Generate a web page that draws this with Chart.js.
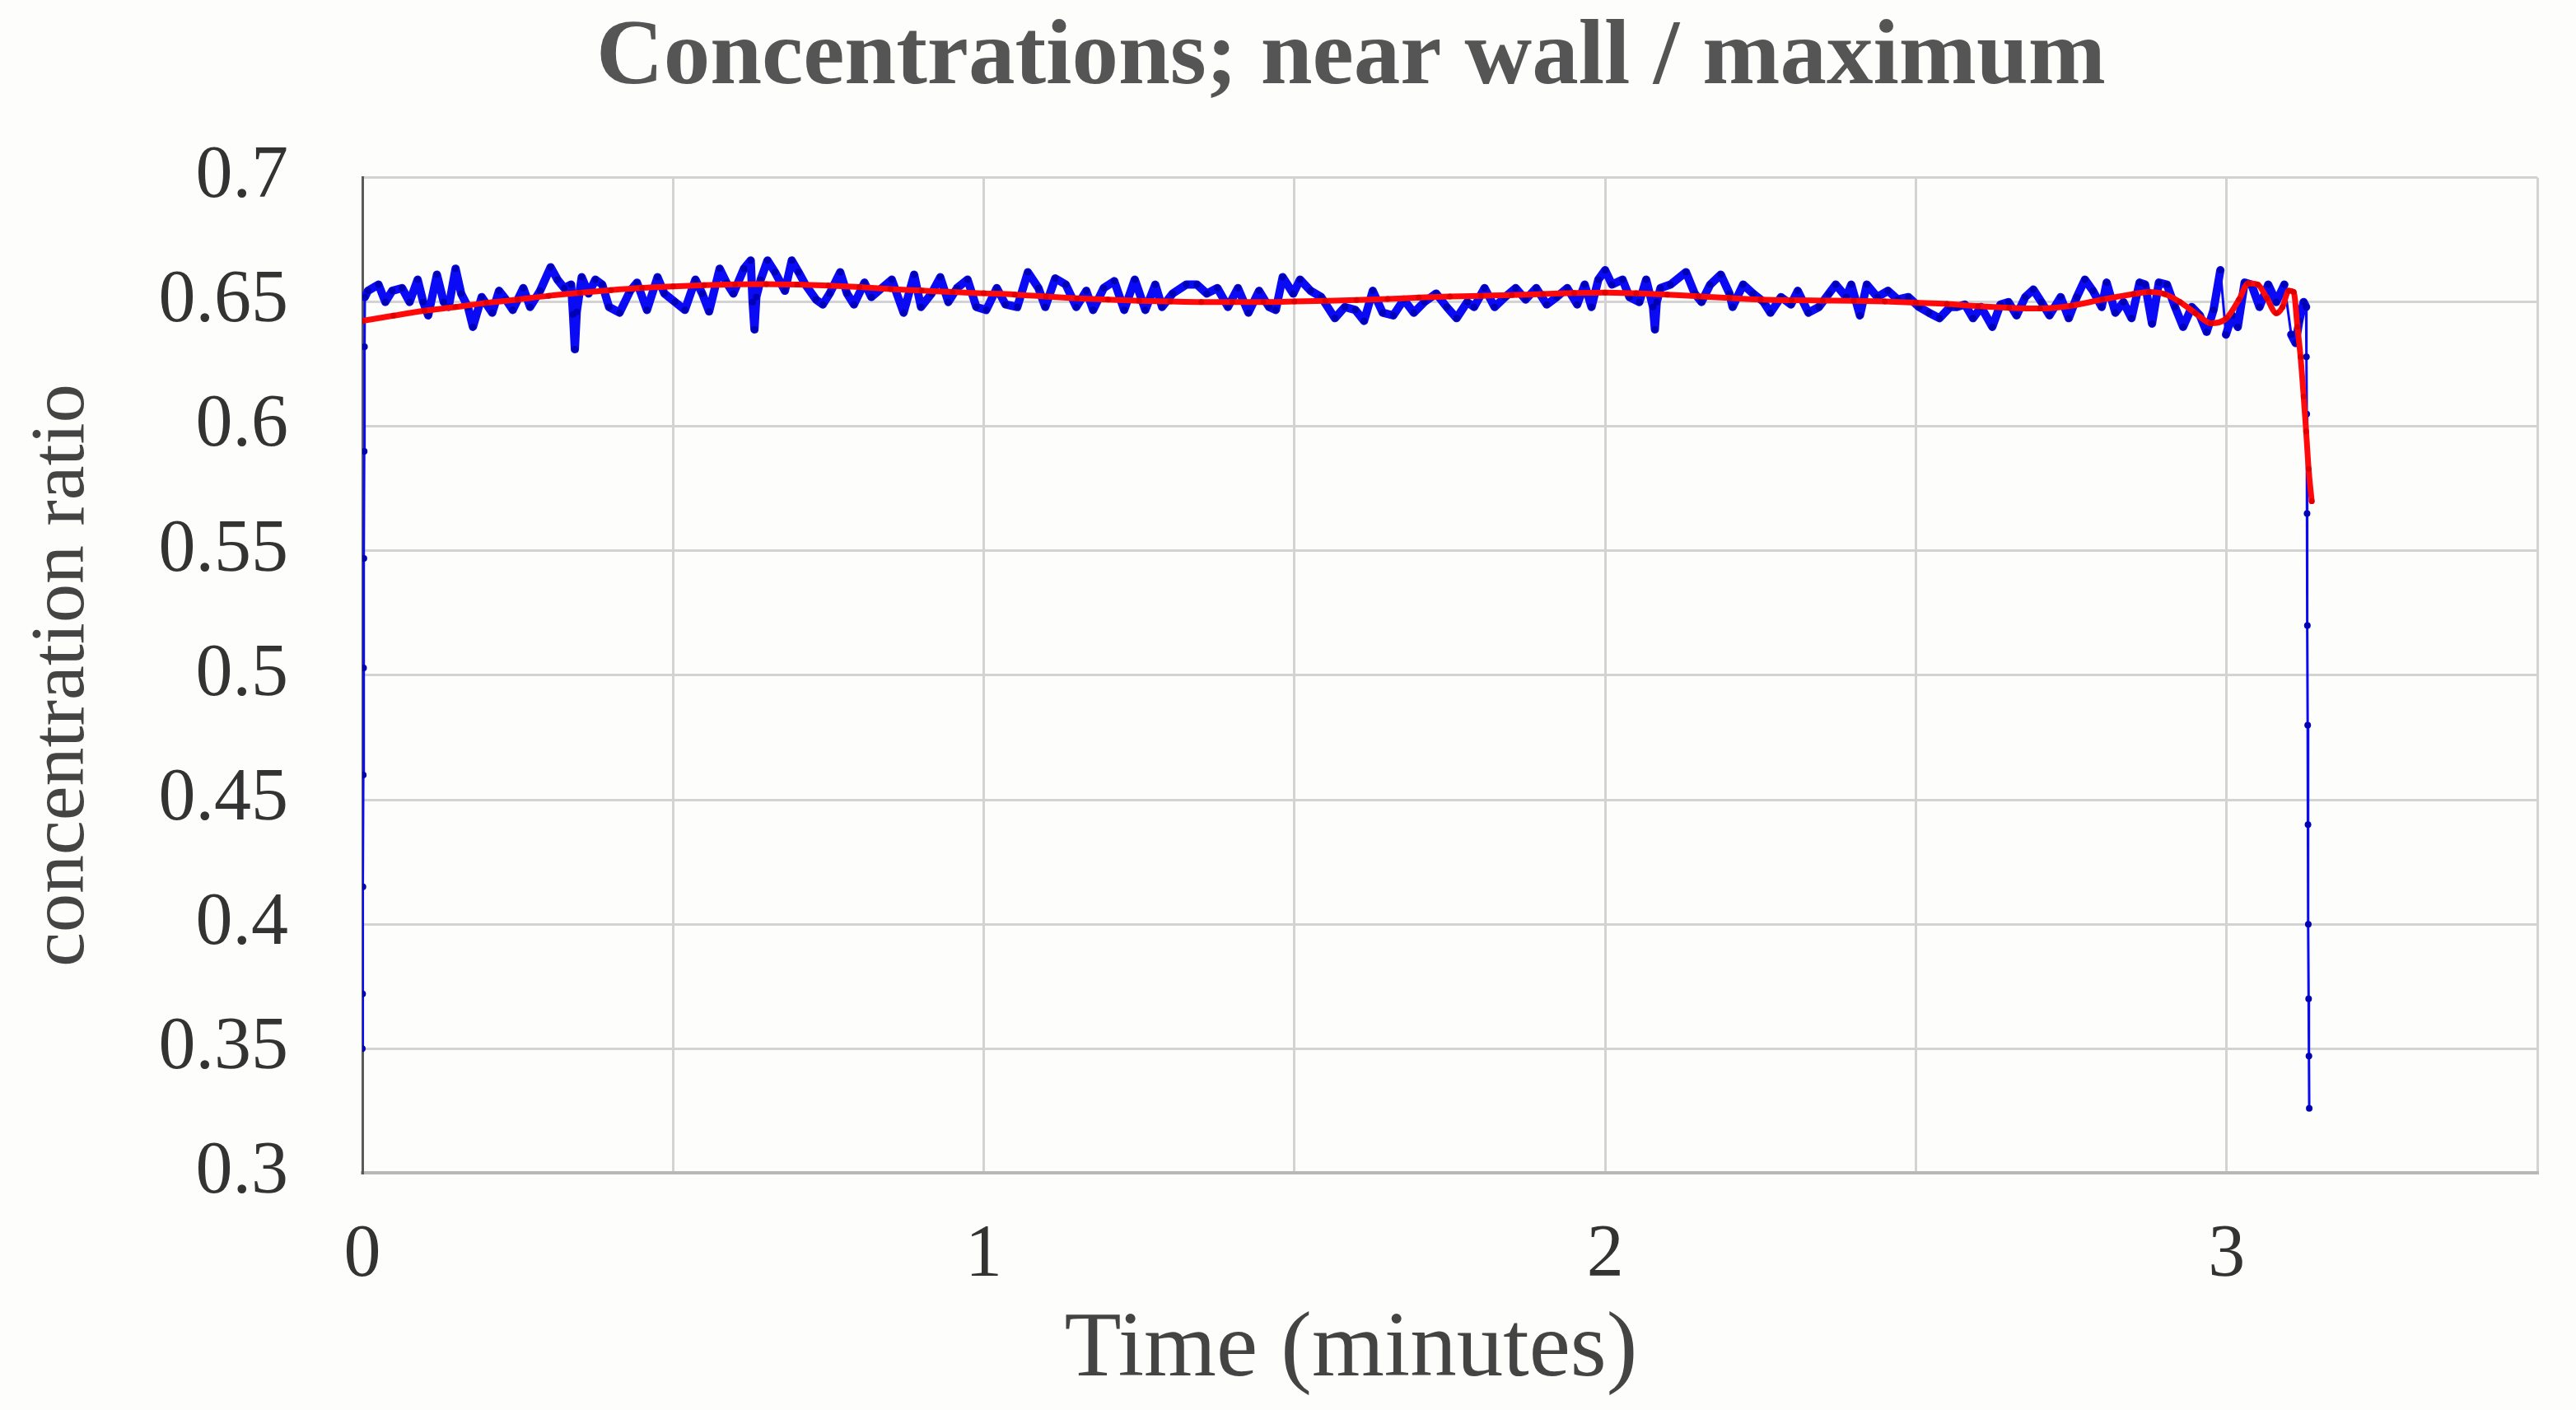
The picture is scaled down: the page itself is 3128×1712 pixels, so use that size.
<!DOCTYPE html>
<html>
<head>
<meta charset="utf-8">
<title>Concentrations; near wall / maximum</title>
<script src="https://cdn.jsdelivr.net/npm/chart.js@4/dist/chart.umd.min.js"></script>
<style>
  html, body { margin: 0; padding: 0; background: #fdfdfb; }
  #chart { display: block; }
</style>
</head>
<body>
<canvas id="chart" width="3128" height="1712"></canvas>
<script>
// measured series (time in minutes, ratio)
const blueTime = [
  0.000, 0.0005, 0.001, 0.0015, 0.002, 0.0025, 0.003, 0.0035, 0.004,
  0.009, 0.026, 0.037, 0.048, 0.064, 0.076, 0.089, 0.098, 0.106, 0.120,
  0.131, 0.139, 0.150, 0.159, 0.170, 0.178, 0.192, 0.209, 0.220, 0.231,
  0.242, 0.259, 0.270, 0.286, 0.303, 0.314, 0.325, 0.336, 0.339, 0.342,
  0.345, 0.353, 0.364, 0.375, 0.386, 0.397, 0.414, 0.431, 0.442, 0.458,
  0.475, 0.486, 0.503, 0.519, 0.536, 0.547, 0.558, 0.575, 0.586, 0.597,
  0.614, 0.625, 0.628, 0.631, 0.634, 0.641, 0.652, 0.664, 0.680, 0.691,
  0.702, 0.713, 0.730, 0.741, 0.752, 0.769, 0.780, 0.791, 0.808, 0.819,
  0.836, 0.852, 0.871, 0.888, 0.899, 0.916, 0.930, 0.943, 0.957, 0.974,
  0.988, 1.004, 1.021, 1.035, 1.054, 1.071, 1.088, 1.099, 1.115, 1.132,
  1.149, 1.165, 1.176, 1.193, 1.210, 1.226, 1.243, 1.260, 1.276, 1.287,
  1.304, 1.326, 1.343, 1.359, 1.376, 1.393, 1.409, 1.426, 1.443, 1.459,
  1.470, 1.481, 1.498, 1.509, 1.526, 1.543, 1.565, 1.581, 1.598, 1.612,
  1.626, 1.642, 1.659, 1.676, 1.692, 1.709, 1.728, 1.745, 1.761, 1.778,
  1.789, 1.806, 1.822, 1.839, 1.856, 1.872, 1.889, 1.906, 1.922, 1.939,
  1.955, 1.967, 1.978, 1.989, 2.000, 2.011, 2.028, 2.039, 2.055, 2.066,
  2.077, 2.080, 2.083, 2.089, 2.105, 2.130, 2.144, 2.155, 2.169, 2.186,
  2.200, 2.205, 2.222, 2.238, 2.255, 2.266, 2.283, 2.299, 2.310, 2.327,
  2.344, 2.360, 2.371, 2.388, 2.396, 2.410, 2.421, 2.438, 2.455, 2.471,
  2.488, 2.505, 2.521, 2.538, 2.555, 2.566, 2.579, 2.592, 2.605, 2.623,
  2.636, 2.649, 2.662, 2.676, 2.689, 2.702, 2.715, 2.733, 2.746, 2.759,
  2.772, 2.785, 2.799, 2.807, 2.821, 2.834, 2.847, 2.860, 2.869, 2.880,
  2.891, 2.904, 2.917, 2.930, 2.944, 2.957, 2.968, 2.979, 2.990, 2.999,
  3.009, 3.018, 3.029, 3.040, 3.053, 3.067, 3.080, 3.093, 3.104, 3.111,
  3.117, 3.124, 3.128, 3.1285, 3.129, 3.1295, 3.130, 3.1305, 3.131, 3.1315,
  3.132, 3.1325, 3.133
];
const blueRatio = [
  0.350, 0.372, 0.415, 0.460, 0.503, 0.547, 0.590, 0.632, 0.652,
  0.6545, 0.657, 0.650, 0.6545, 0.6556, 0.650, 0.659, 0.650, 0.6446, 0.661,
  0.650, 0.648, 0.6634, 0.6534, 0.648, 0.640, 0.652, 0.6457, 0.6545, 0.651,
  0.6468, 0.6556, 0.648, 0.6545, 0.664, 0.659, 0.6556, 0.657, 0.645, 0.631,
  0.646, 0.660, 0.6534, 0.659, 0.657, 0.648, 0.6457, 0.6545, 0.6578, 0.6468,
  0.660, 0.6534, 0.650, 0.6468, 0.659, 0.6534, 0.6462, 0.6634, 0.6578, 0.6534,
  0.6634, 0.6667, 0.650, 0.639, 0.652, 0.659, 0.6667, 0.662, 0.6545, 0.6667,
  0.662, 0.657, 0.651, 0.649, 0.6534, 0.662, 0.6534, 0.649, 0.6578, 0.652,
  0.6556, 0.659, 0.6457, 0.661, 0.648, 0.6534, 0.660, 0.650, 0.6556, 0.659,
  0.648, 0.6468, 0.6556, 0.649, 0.648, 0.662, 0.6556, 0.648, 0.6595, 0.657,
  0.648, 0.6545, 0.6468, 0.6556, 0.6584, 0.6468, 0.659, 0.6468, 0.657, 0.648,
  0.6534, 0.657, 0.657, 0.6534, 0.6556, 0.648, 0.6556, 0.6457, 0.6545, 0.648,
  0.6468, 0.660, 0.6534, 0.659, 0.6545, 0.652, 0.6435, 0.648, 0.6468, 0.6424,
  0.6545, 0.6457, 0.6446, 0.651, 0.6457, 0.650, 0.6534, 0.648, 0.6435, 0.650,
  0.648, 0.6556, 0.648, 0.652, 0.6556, 0.651, 0.6556, 0.649, 0.652, 0.6556,
  0.649, 0.657, 0.648, 0.659, 0.6628, 0.657, 0.659, 0.652, 0.650, 0.659,
  0.648, 0.639, 0.650, 0.6556, 0.657, 0.662, 0.6534, 0.650, 0.657, 0.661,
  0.6534, 0.648, 0.657, 0.6534, 0.650, 0.6457, 0.652, 0.649, 0.6545, 0.6457,
  0.648, 0.6534, 0.657, 0.652, 0.657, 0.6446, 0.657, 0.652, 0.6545, 0.651,
  0.652, 0.648, 0.6457, 0.6435, 0.648, 0.648, 0.649, 0.6435, 0.648, 0.640,
  0.649, 0.650, 0.6446, 0.652, 0.655, 0.650, 0.6446, 0.652, 0.6435, 0.652,
  0.659, 0.6545, 0.648, 0.6578, 0.6457, 0.650, 0.6435, 0.6578, 0.657, 0.6413,
  0.6578, 0.657, 0.648, 0.640, 0.648, 0.6446, 0.638, 0.6468, 0.6628, 0.6369,
  0.6446, 0.640, 0.6578, 0.657, 0.648, 0.657, 0.650, 0.657, 0.6369, 0.6335,
  0.6424, 0.650, 0.648, 0.628, 0.605, 0.565, 0.520, 0.480, 0.440, 0.400,
  0.370, 0.347, 0.326
];

// smoothed (red) curve
const redTime = [
  0.00, 0.05, 0.10, 0.15, 0.20, 0.25, 0.30, 0.35, 0.40, 0.45,
  0.50, 0.55, 0.60, 0.65, 0.70, 0.75, 0.80, 0.85, 0.90, 0.95,
  1.00, 1.05, 1.10, 1.15, 1.20, 1.25, 1.30, 1.35, 1.40, 1.45,
  1.50, 1.55, 1.60, 1.65, 1.70, 1.75, 1.80, 1.85, 1.90, 1.95,
  2.00, 2.05, 2.10, 2.15, 2.20, 2.25, 2.30, 2.35, 2.40, 2.45,
  2.50, 2.55, 2.60, 2.65, 2.70, 2.75, 2.80, 2.85, 2.875, 2.90,
  2.925, 2.95, 2.975, 3.00, 3.02, 3.035, 3.05, 3.065, 3.08, 3.09,
  3.10, 3.108, 3.114, 3.119, 3.124, 3.128, 3.132, 3.137
];
const redRatio = [
  0.6424, 0.6445, 0.6465, 0.648, 0.6497, 0.651, 0.6525, 0.6537, 0.6548, 0.6557,
  0.6563, 0.6568, 0.6571, 0.6572, 0.657, 0.6566, 0.656, 0.6552, 0.6546, 0.654,
  0.6535, 0.653, 0.6522, 0.6515, 0.651, 0.6505, 0.6502, 0.650, 0.650, 0.650,
  0.6502, 0.6505, 0.6508, 0.6512, 0.6518, 0.6522, 0.6525, 0.6528, 0.6532, 0.6536,
  0.6538, 0.6535, 0.653, 0.6523, 0.6516, 0.651, 0.6507, 0.6506, 0.6505, 0.6502,
  0.6497, 0.6492, 0.6483, 0.6477, 0.6474, 0.6485, 0.651, 0.6532, 0.654, 0.6532,
  0.650, 0.6455, 0.6415, 0.6435, 0.651, 0.6575, 0.657, 0.6515, 0.6455, 0.648,
  0.6545, 0.654, 0.640, 0.628, 0.612, 0.598, 0.583, 0.570
];

const xTickStep = 0.5;
const yTickStep = 0.05;

const serif = "'Liberation Serif', 'Times New Roman', serif";

const bluePoints = blueTime.map((t, i) => ({ x: t, y: blueRatio[i] }));
const redPoints = redTime.map((t, i) => ({ x: t, y: redRatio[i] }));

const canvas = document.getElementById('chart');

// left padding moves the centre of the full-width captions to the right, as in the original;
// it must stay left of the widest y label (labels are clipped to the axis box)
const padLeft = 185;

new Chart(canvas, {
  type: 'line',
  data: {
    datasets: [
      {
        label: 'smoothed',
        data: redPoints,
        order: 0,
        borderColor: '#ff0a0a',
        borderWidth: 7,
        borderJoinStyle: 'round',
        borderCapStyle: 'round',
        pointRadius: 3.5,
        pointBackgroundColor: '#e00000',
        pointBorderWidth: 0,
        cubicInterpolationMode: 'monotone'
      },
      {
        label: 'near wall / maximum',
        data: bluePoints,
        order: 1,
        borderColor: '#0a0af5',
        borderWidth: 10,
        borderJoinStyle: 'round',
        borderCapStyle: 'round',
        pointRadius: 4,
        pointBackgroundColor: '#0000b4',
        pointBorderWidth: 0,
        tension: 0,
        segment: {
          // steep jumps are drawn as a thin trace
          borderWidth: c => Math.abs(c.p1.parsed.y - c.p0.parsed.y) > 0.02 ? 3 : 10
        }
      }
    ]
  },
  options: {
    responsive: false,
    animation: false,
    devicePixelRatio: 1,
    layout: { padding: { left: padLeft, right: 32, top: 0, bottom: 0 } },
    plugins: {
      legend: { display: false },
      tooltip: { enabled: false },
      title: {
        display: true,
        text: 'Concentrations; near wall / maximum',
        color: '#555555',
        font: { family: serif, size: 113, weight: 'bold' },
        padding: { top: 4, bottom: 76 }
      },
      // x axis caption, placed under the axis like the original
      subtitle: {
        display: true,
        position: 'bottom',
        text: 'Time (minutes)',
        color: '#444444',
        font: { family: serif, size: 113 },
        padding: { top: 0, bottom: 4 }
      }
    },
    scales: {
      x: {
        type: 'linear',
        min: 0,
        max: 3.5,
        afterFit: s => { s.height = 148; },
        ticks: {
          stepSize: xTickStep,
          autoSkip: false,
          maxRotation: 0,
          padding: 47,
          color: '#333333',
          font: { family: serif, size: 90 },
          callback: v => Number.isInteger(v) ? String(v) : ''
        },
        grid: { color: '#d3d3d3', lineWidth: 3, drawTicks: false },
        border: { color: '#b8b8b8', width: 4 }
      },
      y: {
        min: 0.3,
        max: 0.7,
        afterFit: s => { s.width = 440 - padLeft; },
        ticks: {
          stepSize: yTickStep,
          padding: 90,
          color: '#333333',
          font: { family: serif, size: 90 },
          callback: v => String(Math.round(v * 100) / 100)
        },
        grid: { color: '#d3d3d3', lineWidth: 3, drawTicks: false },
        border: { color: '#5a5a5a', width: 3 },
        title: {
          display: true,
          text: 'concentration ratio',
          color: '#444444',
          font: { family: serif, size: 94 },
          padding: { top: 20 - padLeft, bottom: 0 }
        }
      }
    }
  }
});
</script>
</body>
</html>
